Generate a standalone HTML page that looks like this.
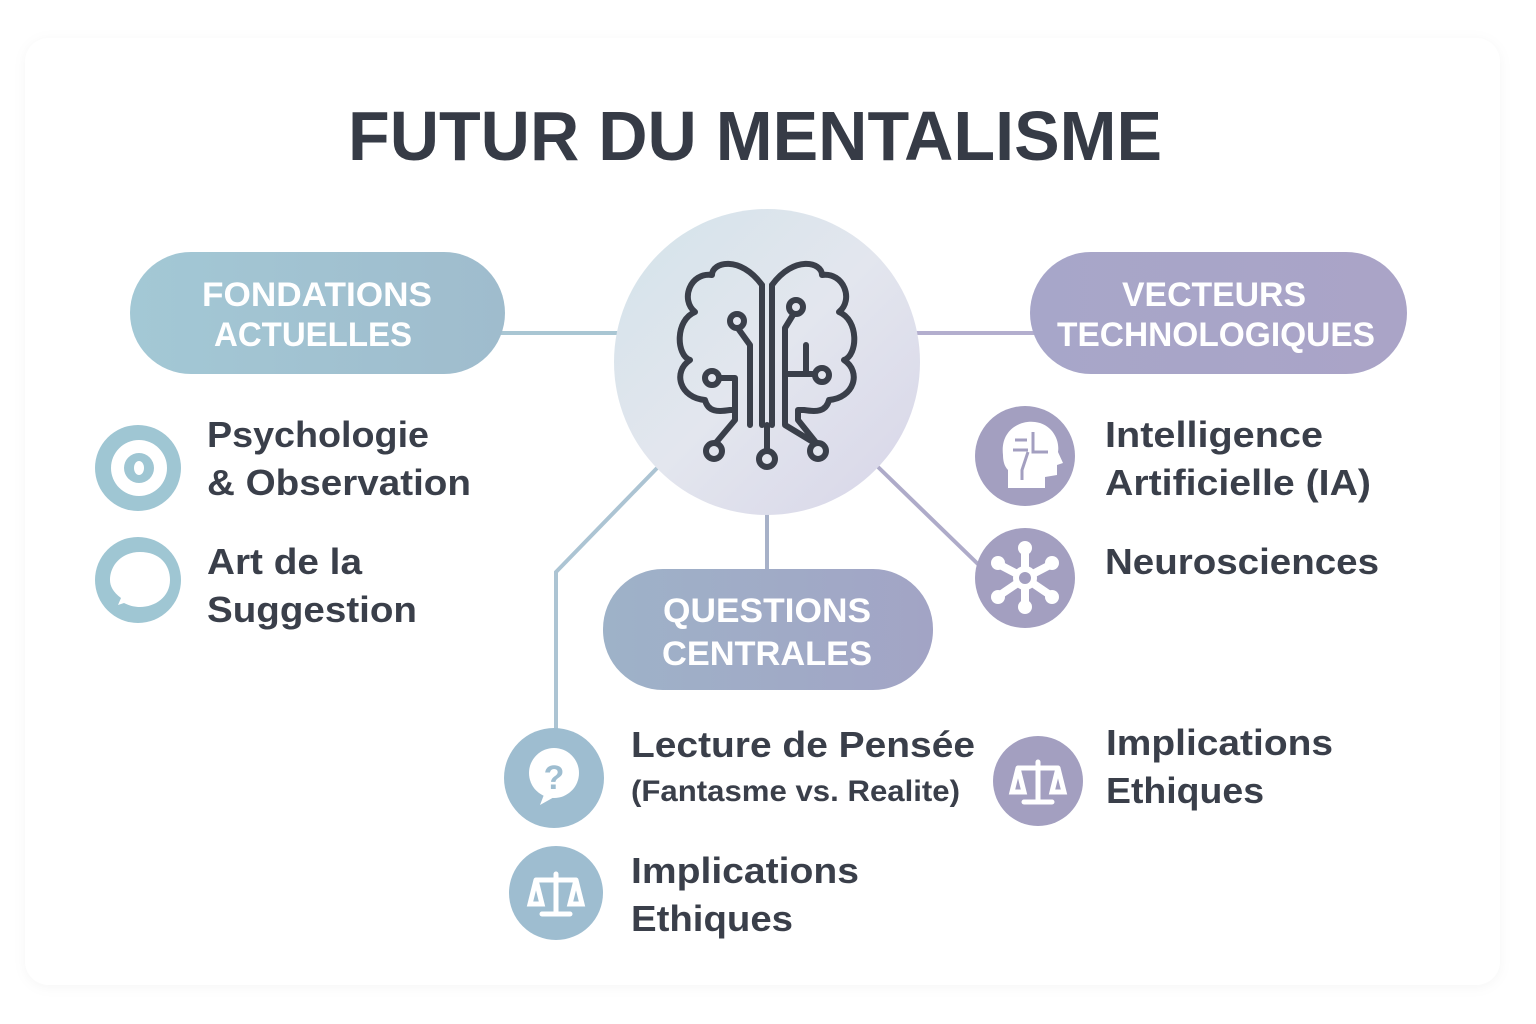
<!DOCTYPE html>
<html><head><meta charset="utf-8"><style>
html,body{margin:0;padding:0;background:#fff;width:1536px;height:1024px;overflow:hidden}
svg{display:block}
text{font-family:"Liberation Sans",sans-serif}
</style></head><body>
<svg width="1536" height="1024" viewBox="0 0 1536 1024">
<defs>
<linearGradient id="cg" x1="0" y1="0" x2="1" y2="1"><stop offset="0" stop-color="#d3e3ea"/><stop offset="0.5" stop-color="#e3e6ee"/><stop offset="1" stop-color="#d7d5e8"/></linearGradient>
<linearGradient id="lp" x1="0" x2="1"><stop offset="0" stop-color="#a3c8d5"/><stop offset="1" stop-color="#9fbccd"/></linearGradient>
<linearGradient id="rp" x1="0" x2="1"><stop offset="0" stop-color="#a7a6c9"/><stop offset="1" stop-color="#aaa4c7"/></linearGradient>
<linearGradient id="bp" x1="0" x2="1"><stop offset="0" stop-color="#9eb2c8"/><stop offset="1" stop-color="#a2a4c5"/></linearGradient>
<filter id="sh" x="-5%" y="-5%" width="110%" height="110%"><feDropShadow dx="0" dy="2" stdDeviation="6" flood-color="#000" flood-opacity="0.04"/></filter>
</defs>
<rect x="25" y="38" width="1475" height="947" rx="24" fill="#fff" filter="url(#sh)"/>
<text x="755" y="160" text-anchor="middle" font-size="70" font-weight="bold" fill="#363b46" textLength="814" lengthAdjust="spacingAndGlyphs">FUTUR DU MENTALISME</text>

<g stroke-width="4" fill="none">
<line x1="500" y1="333" x2="620" y2="333" stroke="#a9c6d3"/>
<line x1="915" y1="333" x2="1035" y2="333" stroke="#b3aece"/>
<line x1="767" y1="505" x2="767" y2="572" stroke="#a7b1c8"/>
<polyline points="660,465 556,572 556,735" stroke="#acc4d3"/>
<line x1="877" y1="466" x2="982" y2="568" stroke="#aeabc9"/>
</g>

<rect x="130" y="252" width="375" height="122" rx="61" fill="url(#lp)"/>
<text x="317" y="306" text-anchor="middle" font-size="34" font-weight="bold" fill="#fff" textLength="230" lengthAdjust="spacingAndGlyphs">FONDATIONS</text>
<text x="313" y="346" text-anchor="middle" font-size="34" font-weight="bold" fill="#fff" textLength="198" lengthAdjust="spacingAndGlyphs">ACTUELLES</text>
<rect x="1030" y="252" width="377" height="122" rx="61" fill="url(#rp)"/>
<text x="1214" y="306" text-anchor="middle" font-size="34" font-weight="bold" fill="#fff" textLength="184" lengthAdjust="spacingAndGlyphs">VECTEURS</text>
<text x="1216" y="346" text-anchor="middle" font-size="34" font-weight="bold" fill="#fff" textLength="318" lengthAdjust="spacingAndGlyphs">TECHNOLOGIQUES</text>
<rect x="603" y="569" width="330" height="121" rx="60" fill="url(#bp)"/>
<text x="767" y="622" text-anchor="middle" font-size="34" font-weight="bold" fill="#fff" textLength="208" lengthAdjust="spacingAndGlyphs">QUESTIONS</text>
<text x="767" y="665" text-anchor="middle" font-size="34" font-weight="bold" fill="#fff" textLength="210" lengthAdjust="spacingAndGlyphs">CENTRALES</text>

<circle cx="767" cy="362" r="153" fill="url(#cg)"/>
<g stroke="#3a3f4a" stroke-width="6" fill="none" stroke-linecap="round" stroke-linejoin="round">
<path d="M762 285 C740 255 712 262 712 275 C690 272 680 300 695 312 C675 320 676 355 690 360 C672 372 680 398 705 400 C708 412 718 412 730 410 L735 410 L735 420 L714 445"/>
<path d="M772 285 C794 255 822 262 822 275 C844 272 854 300 839 312 C859 320 858 355 844 360 C862 372 854 398 829 400 C826 412 816 412 804 410 L798 410 L798 420 L818 445"/>
<line x1="762" y1="285" x2="762" y2="425"/><line x1="772" y1="285" x2="772" y2="425"/>
<line x1="767" y1="425" x2="767" y2="450"/>
<path d="M737 327 L750 345 L750 425"/>
<path d="M796 310 L785 328 L785 425 L818 445"/>
<path d="M735 410 L735 378 L712 378"/>
<path d="M785 374 L815 374 M806 374 L806 345"/>
</g>
<g stroke="#3a3f4a" stroke-width="6" fill="#e2e5ee">
<circle cx="737" cy="321" r="7"/><circle cx="796" cy="307" r="7"/><circle cx="712" cy="378" r="7"/><circle cx="822" cy="375" r="7"/>
<circle cx="714" cy="451" r="8"/><circle cx="767" cy="459" r="8"/><circle cx="818" cy="451" r="8"/>
</g>

<circle cx="138" cy="468" r="43" fill="#9fc6d3"/>
<circle cx="139" cy="468" r="28" fill="#fff"/><circle cx="139" cy="468" r="15" fill="#9fc6d3"/><ellipse cx="139" cy="468" rx="5" ry="7" fill="#fff"/>
<circle cx="138" cy="580" r="43" fill="#9fc6d3"/>
<path d="M140 552 C160 552 170 565 170 580 C170 597 155 607 140 607 C133 607 128 605 124 603 L118 605 L121 598 C113 592 110 586 110 580 C110 565 122 552 140 552Z" fill="#fff"/>

<circle cx="1025" cy="456" r="50" fill="#a39fc0"/>
<path d="M1003 455 C1000 430 1020 420 1035 422 C1052 424 1060 440 1058 452 L1063 463 L1057 465 L1057 475 L1045 477 L1045 488 L1008 488 L1008 470 C1004 466 1003 460 1003 455Z" fill="#fff"/>
<g stroke="#a39fc0" stroke-width="3" fill="none"><path d="M1015 440 H1027 M1013 450 H1028 M1033 432 V452 H1048 M1028 452 L1022 470 V480"/></g>
<circle cx="1025" cy="578" r="50" fill="#a39fc0"/>
<g stroke="#fff" stroke-width="8" stroke-linecap="round"><line x1="1025" y1="578" x2="1025" y2="550"/><line x1="1025" y1="578" x2="1050" y2="565"/><line x1="1025" y1="578" x2="1050" y2="595"/><line x1="1025" y1="578" x2="1025" y2="605"/><line x1="1025" y1="578" x2="1000" y2="595"/><line x1="1025" y1="578" x2="1000" y2="565"/></g>
<g fill="#fff"><circle cx="1025" cy="548" r="7"/><circle cx="1052" cy="563" r="7"/><circle cx="1052" cy="597" r="7"/><circle cx="1025" cy="607" r="7"/><circle cx="998" cy="597" r="7"/><circle cx="998" cy="563" r="7"/><circle cx="1025" cy="578" r="12"/></g>
<circle cx="1025" cy="578" r="6" fill="#a39fc0"/>
<circle cx="1038" cy="781" r="45" fill="#a39fc0"/>
<g stroke="#fff" stroke-width="5" fill="none" stroke-linecap="round"><line x1="1038" y1="762" x2="1038" y2="800"/><line x1="1018" y1="768" x2="1058" y2="768"/><line x1="1024" y1="802" x2="1052" y2="802"/><path d="M1018 768 L1012 792 H1024 Z M1058 768 L1052 792 H1064 Z"/></g>

<circle cx="554" cy="778" r="50" fill="#9ebdd0"/>
<circle cx="554" cy="773" r="25" fill="#fff"/><path d="M545 792 L540 805 L556 796Z" fill="#fff"/>
<text x="554" y="789" text-anchor="middle" font-size="34" font-weight="bold" fill="#9ebdd0">?</text>
<circle cx="556" cy="893" r="47" fill="#9ebdd0"/>
<g stroke="#fff" stroke-width="5" fill="none" stroke-linecap="round"><line x1="556" y1="874" x2="556" y2="912"/><line x1="536" y1="880" x2="576" y2="880"/><line x1="542" y1="914" x2="570" y2="914"/><path d="M536 880 L530 904 H542 Z M576 880 L570 904 H582 Z"/></g>

<g fill="#3a3f4a" font-size="36" font-weight="bold">
<text x="207" y="447" textLength="222" lengthAdjust="spacingAndGlyphs">Psychologie</text>
<text x="207" y="495" textLength="264" lengthAdjust="spacingAndGlyphs">&amp; Observation</text>
<text x="207" y="574" textLength="155" lengthAdjust="spacingAndGlyphs">Art de la</text>
<text x="207" y="622" textLength="210" lengthAdjust="spacingAndGlyphs">Suggestion</text>
<text x="1105" y="447" textLength="218" lengthAdjust="spacingAndGlyphs">Intelligence</text>
<text x="1105" y="495" textLength="266" lengthAdjust="spacingAndGlyphs">Artificielle (IA)</text>
<text x="1105" y="574" textLength="274" lengthAdjust="spacingAndGlyphs">Neurosciences</text>
<text x="1106" y="755" textLength="227" lengthAdjust="spacingAndGlyphs">Implications</text>
<text x="1106" y="803" textLength="158" lengthAdjust="spacingAndGlyphs">Ethiques</text>
<text x="631" y="757" textLength="344" lengthAdjust="spacingAndGlyphs">Lecture de Pensée</text>
<text x="631" y="801" font-size="30" textLength="329" lengthAdjust="spacingAndGlyphs">(Fantasme vs. Realite)</text>
<text x="631" y="883" textLength="228" lengthAdjust="spacingAndGlyphs">Implications</text>
<text x="631" y="931" textLength="162" lengthAdjust="spacingAndGlyphs">Ethiques</text>
</g>
</svg>
</body></html>
